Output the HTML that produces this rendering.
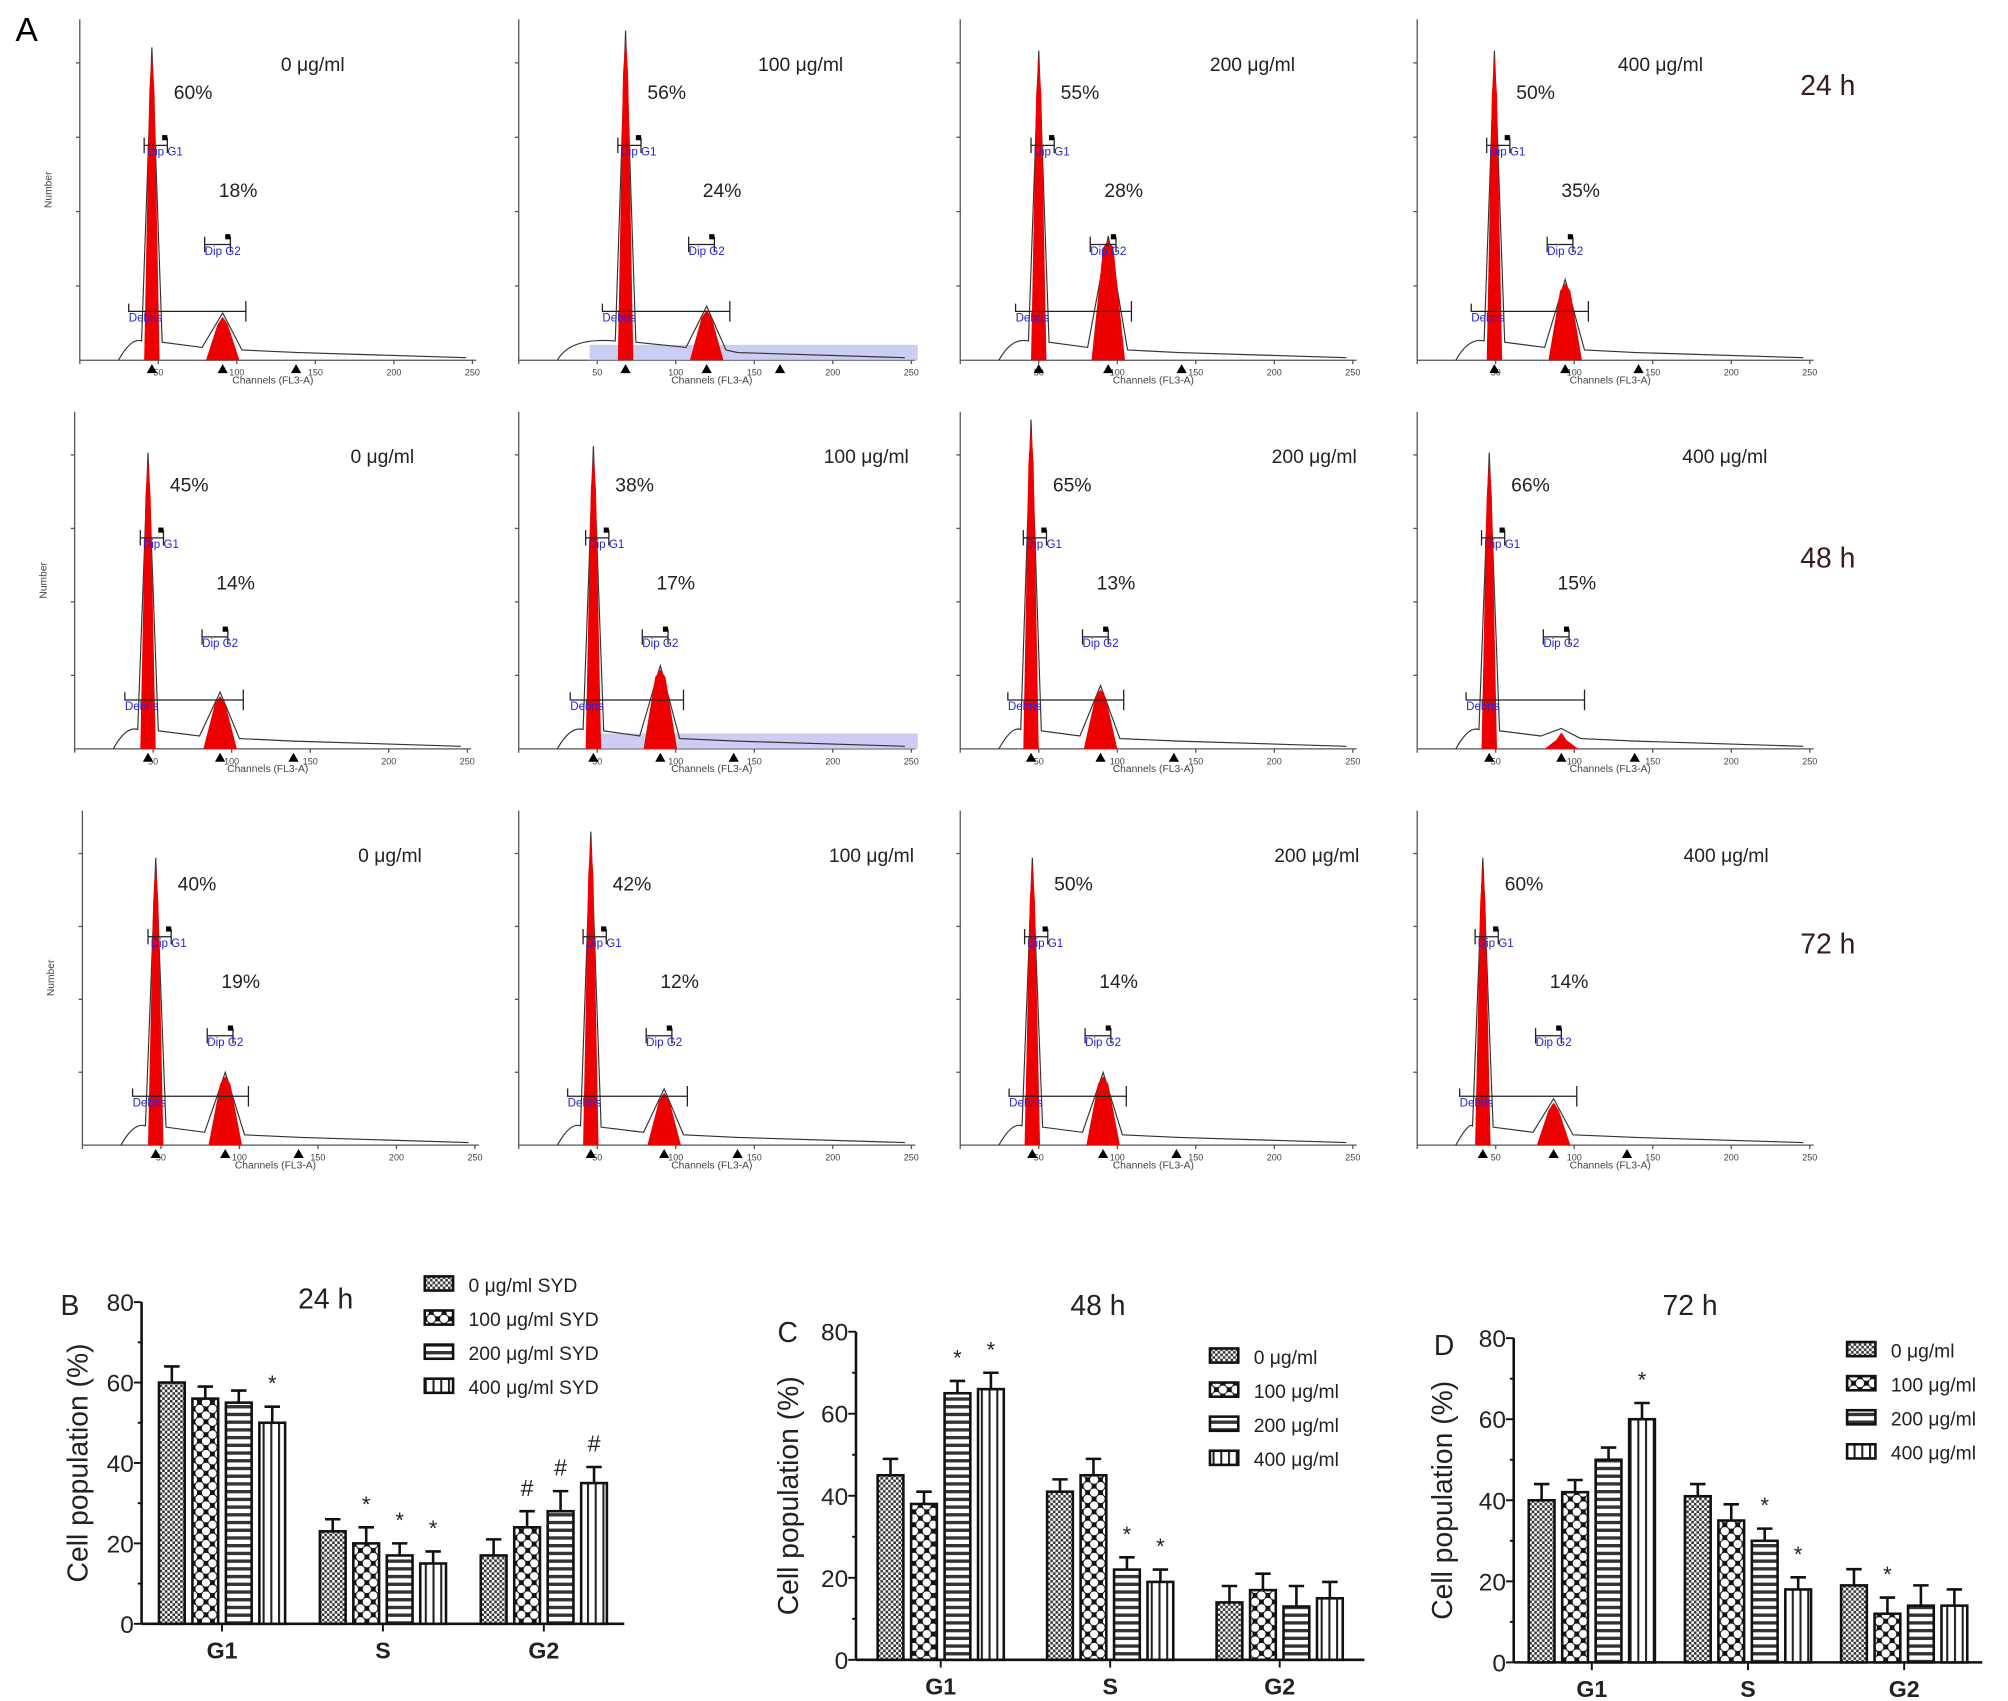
<!DOCTYPE html>
<html><head><meta charset="utf-8"><style>
html,body{margin:0;padding:0;background:#fff;}
svg{display:block;font-family:"Liberation Sans",Arial,sans-serif;}
</style></head><body>
<svg id="fig" width="2008" height="1701" viewBox="0 0 1560 1322" preserveAspectRatio="none" xmlns="http://www.w3.org/2000/svg">
<defs>
<pattern id="p0" width="4" height="4" patternUnits="userSpaceOnUse"><rect width="4" height="4" fill="#fff"/><rect width="2" height="2" fill="#333"/><rect x="2" y="2" width="2" height="2" fill="#333"/></pattern>
<pattern id="p1" width="10" height="10" patternUnits="userSpaceOnUse"><rect width="10" height="10" fill="#111"/><circle cx="5" cy="5" r="3.2" fill="#fff"/><circle cx="0" cy="0" r="3.2" fill="#fff"/><circle cx="10" cy="0" r="3.2" fill="#fff"/><circle cx="0" cy="10" r="3.2" fill="#fff"/><circle cx="10" cy="10" r="3.2" fill="#fff"/></pattern>
<pattern id="p2" width="6" height="6" patternUnits="userSpaceOnUse"><rect width="6" height="6" fill="#fff"/><rect y="0" width="6" height="2.6" fill="#333"/></pattern>
<pattern id="p3" width="6" height="6" patternUnits="userSpaceOnUse"><rect width="6" height="6" fill="#fff"/><rect x="0" width="1.6" height="6" fill="#222"/></pattern>
</defs>
<text x="12" y="32" font-size="26">A</text>
<g id="hists"></g>
<g id="bars"></g>
</svg>
<script>
var NS="http://www.w3.org/2000/svg";
function mk(tag,attrs,parent,text){var e=document.createElementNS(NS,tag);for(var k in attrs)e.setAttribute(k,attrs[k]);if(text!==undefined)e.textContent=text;parent.appendChild(e);return e;}

/* ---------- Histogram data ---------- */
var histConc=["0 μg/ml","100 μg/ml","200 μg/ml","400 μg/ml"];
var histTimes=["24 h","48 h","72 h"];
var histG1Pct=[[60,56,55,50],[45,38,65,66],[40,42,50,60]];
var histG2Pct=[[18,24,28,35],[14,17,13,15],[19,12,14,14]];
var histG1Peak=[[0.92,0.97,0.91,0.91],[0.88,0.9,0.98,0.88],[0.86,0.94,0.86,0.86]];
var histG2Peak=[[0.13,0.15,0.36,0.23],[0.16,0.24,0.18,0.05],[0.21,0.16,0.21,0.13]];

/* layout (panel geometry) */
var colX=[[62,403,746,1101],[58,403,746,1101],[64,403,746,1101]];
var g1Off=[[56,83,61,60],[57,58,55,56],[57,56,56,51]];
var g2Off=[[111,146,115,115],[113,110,109,112],[111,113,111,106]];
var concPos=[[243,622,973,1290],[297,673,1021,1340],[303,677,1023,1341]];
var rowBase=[280,582,890],rowTop=[15,320,630];

var hg=document.getElementById('hists');
for(var r=0;r<3;r++){
 for(var c=0;c<4;c++){
  var x0=colX[r][c],b=rowBase[r],t=rowTop[r],H=b-t-5;
  var g=mk('g',{},hg);
  
  
  var g1x=x0+g1Off[r][c],g2x=x0+g2Off[r][c];
  var g1t=b-histG1Peak[r][c]*H,g2t=b-histG2Peak[r][c]*H;
  mk('line',{x1:x0,y1:t,x2:x0,y2:b,stroke:'#555','stroke-width':1},g);
  mk('line',{x1:x0,y1:b,x2:x0+308,y2:b,stroke:'#555','stroke-width':1},g);
  for(var k=0;k<6;k++){var tx=x0+k*61;mk('line',{x1:tx,y1:b,x2:tx,y2:b+3,stroke:'#555'},g);
   if(k>0)mk('text',{x:tx,y:b+12,'font-size':7,'text-anchor':'middle',fill:'#444'},g,String(k*50));}
  for(var k=1;k<5;k++){mk('line',{x1:x0-3,y1:b-k*H/4.5,x2:x0,y2:b-k*H/4.5,stroke:'#555'},g);}
  mk('text',{x:x0+150,y:b+18,'font-size':8,'text-anchor':'middle',fill:'#444'},g,'Channels (FL3-A)');
  if(c==0){var ny=(t+b)/2;mk('text',{x:x0-22,y:ny,'font-size':8,'text-anchor':'middle',fill:'#444',transform:'rotate(-90 '+(x0-22)+' '+ny+')'},g,'Number');}
  if(c==1&&r<2){mk('rect',{x:x0+55,y:b-12,width:255,height:12,fill:'#b8b8ee',opacity:0.7},g);}
  var d='M'+(x0+30)+' '+b+' Q'+(x0+40)+' '+(b-18)+' '+(g1x-8)+' '+(b-15)+' L'+g1x+' '+(g1t-4)+' L'+(g1x+8)+' '+(b-14)+' L'+(g2x-16)+' '+(b-10)+' L'+g2x+' '+(g2t-3)+' L'+(g2x+15)+' '+(b-8)+' L'+(x0+170)+' '+(b-6)+' L'+(x0+300)+' '+(b-2);
  mk('path',{d:d,fill:'none',stroke:'#333','stroke-width':0.9},g);
  var p1=mk('polygon',{points:(g1x-6)+','+b+' '+(g1x-2)+','+(g1t+30)+' '+g1x+','+g1t+' '+(g1x+2)+','+(g1t+30)+' '+(g1x+6)+','+b,fill:'#ee0000'},g);
  
  var p2=mk('polygon',{points:(g2x-13)+','+b+' '+(g2x-4)+','+(g2t+6)+' '+g2x+','+g2t+' '+(g2x+4)+','+(g2t+6)+' '+(g2x+13)+','+b,fill:'#ee0000'},g);
  
  var dy=b-38;
  mk('path',{d:'M'+(g1x-18)+' '+(dy-6)+' v6 H'+(g2x+18)+' M'+(g2x+18)+' '+(dy-8)+' v16',fill:'none',stroke:'#222'},g);
  mk('text',{x:g1x-18,y:dy+8,'font-size':9,fill:'#2222dd'},g,'Debris');
  var gy=t+98;
  mk('path',{d:'M'+(g1x-6)+' '+(gy-6)+' v12 M'+(g1x-6)+' '+gy+' H'+(g1x+12)+' M'+(g1x+12)+' '+(gy-6)+' v12',fill:'none',stroke:'#222'},g);
  mk('rect',{x:g1x+8,y:gy-8,width:4,height:4,fill:'#000'},g);
  mk('text',{x:g1x-4,y:gy+8,'font-size':9,fill:'#2222dd'},g,'Dip G1');
  var g2y=t+175;
  mk('path',{d:'M'+(g2x-14)+' '+(g2y-6)+' v12 M'+(g2x-14)+' '+g2y+' H'+(g2x+6)+' M'+(g2x+6)+' '+(g2y-6)+' v12',fill:'none',stroke:'#222'},g);
  mk('rect',{x:g2x+2,y:g2y-8,width:4,height:4,fill:'#000'},g);
  mk('text',{x:g2x-14,y:g2y+8,'font-size':9,fill:'#2222dd'},g,'Dip G2');
  [g1x,g2x,g2x+57].forEach(function(mx){mk('polygon',{points:(mx-4)+','+(b+10)+' '+mx+','+(b+3)+' '+(mx+4)+','+(b+10),fill:'#000'},g);});
  var tp=mk('text',{x:g1x+32,y:t+62,'font-size':15,'text-anchor':'middle',fill:'#222'},g,histG1Pct[r][c]+'%');
  
  var tq=mk('text',{x:g2x+12,y:t+138,'font-size':15,'text-anchor':'middle',fill:'#222'},g,histG2Pct[r][c]+'%');
  
  var tc=mk('text',{x:concPos[r][c],y:t+40,'font-size':15,'text-anchor':'middle',fill:'#222'},g,histConc[c]);
  
 }
 var tt=mk('text',{x:1420,y:[74,441,741][r],'font-size':22,'text-anchor':'middle',fill:'#3a1a1a'},hg,histTimes[r]);
 
}

/* ---------- Bar chart data ---------- */
var groups=["G1","S","G2"];
var vals24=[[60,56,55,50],[23,20,17,15],[17,24,28,35]];
var err24=[[4,3,3,4],[3,4,3,3],[4,4,5,4]];
var sig24=[["","","","*"],["","*","*","*"],["","#","#","#"]];
var vals48=[[45,38,65,66],[41,45,22,19],[14,17,13,15]];
var err48=[[4,3,3,4],[3,4,3,3],[4,4,5,4]];
var sig48=[["","","*","*"],["","","*","*"],["","","",""]];
var vals72=[[40,42,50,60],[41,35,30,18],[19,12,14,14]];
var err72=[[4,3,3,4],[3,4,3,3],[4,4,5,4]];
var sig72=[["","","","*"],["","","*","*"],["","*","",""]];
var yTicks=[0,20,40,60,80];
var legend24=["0  μg/ml SYD","100 μg/ml SYD","200 μg/ml SYD","400 μg/ml SYD"];
var legendOther=["0 μg/ml","100 μg/ml","200 μg/ml","400 μg/ml"];

var bg=document.getElementById('bars');
function chart(cfg){
 var g=mk('g',{},bg);
 
 
 var ax=cfg.ax,y0=cfg.y0,y80=cfg.y80,xr=cfg.xr;
 function Y(v){return y0-(v/80)*(y0-y80);}
 mk('line',{x1:ax,y1:y80,x2:ax,y2:y0,stroke:'#111','stroke-width':2},g);
 mk('line',{x1:ax,y1:y0,x2:xr,y2:y0,stroke:'#111','stroke-width':2},g);
 for(var v=0;v<=80;v+=10){mk('line',{x1:ax-(v%20?3:6),y1:Y(v),x2:ax,y2:Y(v),stroke:'#111','stroke-width':1.5},g);}
 yTicks.forEach(function(v){var tl=mk('text',{x:ax-6,y:Y(v)+7,'font-size':19,'text-anchor':'end',fill:'#222'},g,String(v));
  });
 var gw=(xr-ax)/3;
 groups.forEach(function(gn,gi){
  var gc=ax+gw*(gi+0.5);
  mk('line',{x1:gc,y1:y0,x2:gc,y2:y0+6,stroke:'#111','stroke-width':1.5},g);
  var gl=mk('text',{x:gc,y:y0+27,'font-size':18,'font-weight':'bold','text-anchor':'middle',fill:'#222'},g,gn);
  
  for(var s=0;s<4;s++){
   var bw=20,bx=gc+(s-1.5)*26-bw/2,v=cfg.vals[gi][s],e=cfg.err[gi][s];
   var bar=mk('rect',{x:bx,y:Y(v),width:bw,height:y0-Y(v),fill:'url(#p'+s+')',stroke:'#111','stroke-width':2},g);
   
   
   var cx=bx+bw/2;
   mk('path',{d:'M'+cx+' '+Y(v)+' V'+Y(v+e)+' M'+(cx-6)+' '+Y(v+e)+' H'+(cx+6),stroke:'#111','stroke-width':2,fill:'none'},g);
   if(cfg.sig[gi][s]){var st=mk('text',{x:cx,y:Y(v+e)-12,'font-size':cfg.sig[gi][s]=='#'?18:17,'text-anchor':'middle',fill:'#222'},g,cfg.sig[gi][s]);
    }
  }
 });
 var yc=(y0+y80)/2;
 var yt=mk('text',{x:cfg.ytx,y:yc,'font-size':22,'text-anchor':'middle',fill:'#222',transform:'rotate(-90 '+cfg.ytx+' '+yc+')'},g,'Cell population (%)');
 
 var pl=mk('text',{x:cfg.lx,y:cfg.ly,'font-size':22,fill:'#222'},g,cfg.name);
 
 var ti=mk('text',{x:cfg.tx,y:cfg.ty,'font-size':22,'text-anchor':'middle',fill:'#222'},g,cfg.title);
 
 cfg.legend.forEach(function(l,i){
  var ly=cfg.legY+i*26.5;
  var sw=mk('rect',{x:cfg.legX,y:ly-12,width:22,height:11,fill:'url(#p'+i+')',stroke:'#111','stroke-width':2},g);
  
  var lt=mk('text',{x:cfg.legX+34,y:ly,'font-size':15,fill:'#222'},g,l);
  
 });
}
chart({name:'B',ax:110,y0:1262,y80:1012,xr:485,vals:vals24,err:err24,sig:sig24,ytx:68,lx:47,ly:1022,tx:253,ty:1017,title:'24 h',legend:legend24,legX:330,legY:1004});
chart({name:'C',ax:665,y0:1290,y80:1035,xr:1060,vals:vals48,err:err48,sig:sig48,ytx:620,lx:604,ly:1043,tx:853,ty:1022,title:'48 h',legend:legendOther,legX:940,legY:1060});
chart({name:'D',ax:1176,y0:1292,y80:1040,xr:1540,vals:vals72,err:err72,sig:sig72,ytx:1128,lx:1114,ly:1053,tx:1313,ty:1022,title:'72 h',legend:legendOther,legX:1435,legY:1055});
</script>
</body></html>
